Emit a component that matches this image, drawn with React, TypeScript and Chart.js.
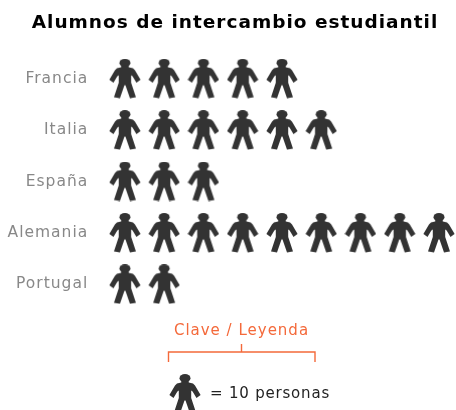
import React, { useEffect, useRef } from "react";
import { Chart, registerables } from "chart.js";

Chart.register(...registerables);

const countries = ["Francia", "Italia", "España", "Alemania", "Portugal"];
const alumnos = [50, 60, 30, 90, 20];
const personasPorIcono = 10;
const titulo = "Alumnos de intercambio estudiantil";
const claveTexto = "Clave / Leyenda";
const claveValor = `= ${personasPorIcono} personas`;

const puntos = countries.flatMap((c, r) =>
  Array.from({ length: alumnos[r] / personasPorIcono }, (_, i) => ({ x: i + 1, y: c }))
);

const INK = "#333333";
const ORANGE = "#f4693a";

function personIcon(): HTMLCanvasElement {
  const w = 32;
  const h = 40;
  const cv = document.createElement("canvas");
  cv.width = w;
  cv.height = h;
  const g = cv.getContext("2d")!;
  const cx = w / 2;
  g.filter = "blur(0.35px)";
  g.fillStyle = INK;
  const half: [number, number][] = [
    [3.5, 7.5],
    [3.8, 8.6],
    [8, 9.4],
    [10, 11.5],
    [15.6, 21],
    [11.5, 24],
    [7.6, 17.5],
    [6.2, 16.5],
    [6.2, 24],
    [11, 38.5],
    [5, 39.5],
    [0.5, 26.5],
  ];
  g.beginPath();
  g.ellipse(cx, 4.3, 5.5, 4.2, 0, 0, Math.PI * 2);
  g.fill();
  g.beginPath();
  half.forEach(([dx, y], i) => (i ? g.lineTo(cx + dx, y) : g.moveTo(cx + dx, y)));
  [...half].reverse().forEach(([dx, y]) => g.lineTo(cx - dx, y));
  g.closePath();
  g.fill();
  return cv;
}

export default function App() {
  const ref = useRef<HTMLCanvasElement>(null);
  useEffect(() => {
    const icon = personIcon();
    const chart = new Chart(ref.current!, {
      type: "scatter",
      data: {
        datasets: [
          {
            label: "Alumnos",
            data: puntos as any,
            pointStyle: icon as any,
            clip: false as any,
            pointRadius: 16,
          },
        ],
      },
      options: {
        responsive: false,
        animation: false,
        layout: { padding: { top: 6, right: 15, bottom: 100, left: 29 } },
        plugins: {
          legend: { display: false },
          tooltip: { enabled: false },
          title: {
            display: true,
            text: titulo,
            color: "#000000",
            font: { family: "DejaVu Sans", weight: "bold", size: 18.5 },
            padding: { top: 6, bottom: 18.8 },
          },
        },
        scales: {
          x: { type: "linear", min: 0.5, max: 9, display: false },
          y: {
            type: "category",
            labels: countries,
            offset: true,
            border: { display: false },
            grid: { display: false },
            ticks: {
              color: "#888888",
              padding: 9,
              font: { family: "DejaVu Sans", size: 15.5 },
            },
            afterFit: (s: any) => {
              s.width = 76.25;
            },
          },
        },
      },
      plugins: [
        {
          id: "clave",
          afterLayout(c: any) {
            // let the tick labels use the margin left of the axis box
            c.scales.y.left = 0;
          },
          beforeDraw(c: any) {
            (c.ctx as any).letterSpacing = "1px";
          },
          afterDraw(c: any) {
            const g = c.ctx as any;
            g.save();
            g.letterSpacing = "1px";
            g.fillStyle = ORANGE;
            g.font = "15px 'DejaVu Sans'";
            g.textAlign = "center";
            g.textBaseline = "middle";
            g.fillText(claveTexto, 241.5, 331);
            g.strokeStyle = ORANGE;
            g.lineWidth = 1.4;
            g.beginPath();
            g.moveTo(168.5, 362);
            g.lineTo(168.5, 352);
            g.lineTo(315, 352);
            g.lineTo(315, 362);
            g.moveTo(241.5, 352);
            g.lineTo(241.5, 344);
            g.stroke();
            g.drawImage(icon, 169, 374);
            g.letterSpacing = "0.8px";
            g.fillStyle = "#222222";
            g.textAlign = "left";
            g.font = "15px 'DejaVu Sans'";
            g.fillText(claveValor, 210, 394);
            g.restore();
            g.letterSpacing = "0px";
          },
        },
      ],
    } as any);
    return () => chart.destroy();
  }, []);
  return (
    <div style={{ position: "fixed", left: 0, top: 0, width: 456, height: 410, background: "#fff" }}>
      <canvas ref={ref} width={456} height={410} style={{ display: "block" }} />
    </div>
  );
}
